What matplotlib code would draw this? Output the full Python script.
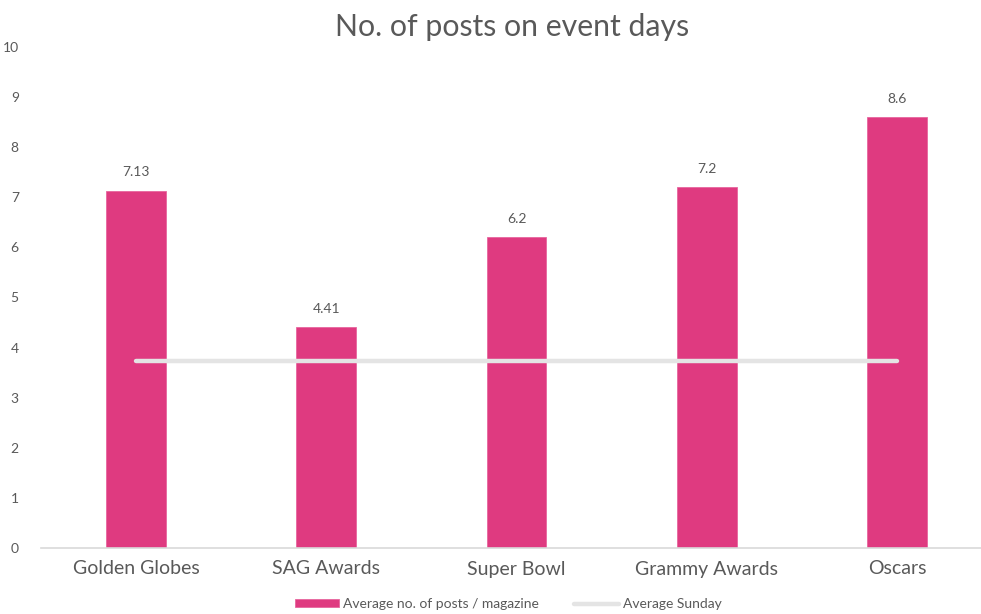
import matplotlib.pyplot as plt
import numpy as np

categories = ["Golden Globes", "SAG Awards", "Super Bowl", "Grammy Awards", "Oscars"]
posts = [7.13, 4.41, 6.2, 7.2, 8.6]
post_labels = ["7.13", "4.41", "6.2", "7.2", "8.6"]
sunday_avg = [3.73, 3.73, 3.73, 3.73, 3.73]

plt.rcParams['font.family'] = ['Lato', 'DejaVu Sans']
grey = "#595959"

fig = plt.figure(figsize=(9.81, 6.14), dpi=100)
ax = fig.add_axes([41 / 981, 66 / 614, 951 / 981, 501 / 614])

x = np.arange(len(categories))
bars = ax.bar(x, posts, width=0.315, color="#DF3A80", edgecolor="#E8669E", linewidth=0.6,
              label="Average no. of posts / magazine", zorder=2)
line, = ax.plot(x, sunday_avg, color="#E4E4E4", linewidth=3.2, solid_capstyle="round",
                label="Average Sunday", zorder=3)

for xi, v, lab in zip(x, posts, post_labels):
    ax.annotate(lab, (xi, v), xytext=(0, 9), textcoords="offset points",
                ha="center", va="bottom", fontsize=10, color=grey)

ax.set_xlim(-0.5, 4.5)
ax.set_ylim(0, 10)
ax.set_yticks(range(0, 11))
ax.set_xticks(x)
ax.set_xticklabels(categories, fontsize=14, color=grey)
ax.tick_params(axis="y", length=0, labelsize=10, labelcolor=grey, pad=16)
ax.tick_params(axis="x", length=0, pad=9)
for s in ["top", "right", "left"]:
    ax.spines[s].set_visible(False)
ax.spines["bottom"].set_color("#D9D9D9")
ax.spines["bottom"].set_linewidth(1.2)

fig.text(0.522, 0.956, "No. of posts on event days", ha="center", va="center",
         fontsize=21.8, color=grey)

fig.legend(handles=[bars, line], loc="center", bbox_to_anchor=(0.518, 0.016), ncol=2,
           frameon=False, fontsize=10, labelcolor=grey, handlelength=3.2, handleheight=0.5,
           columnspacing=2.5, handletextpad=0.3)

fig.savefig("out.png", dpi=100)
